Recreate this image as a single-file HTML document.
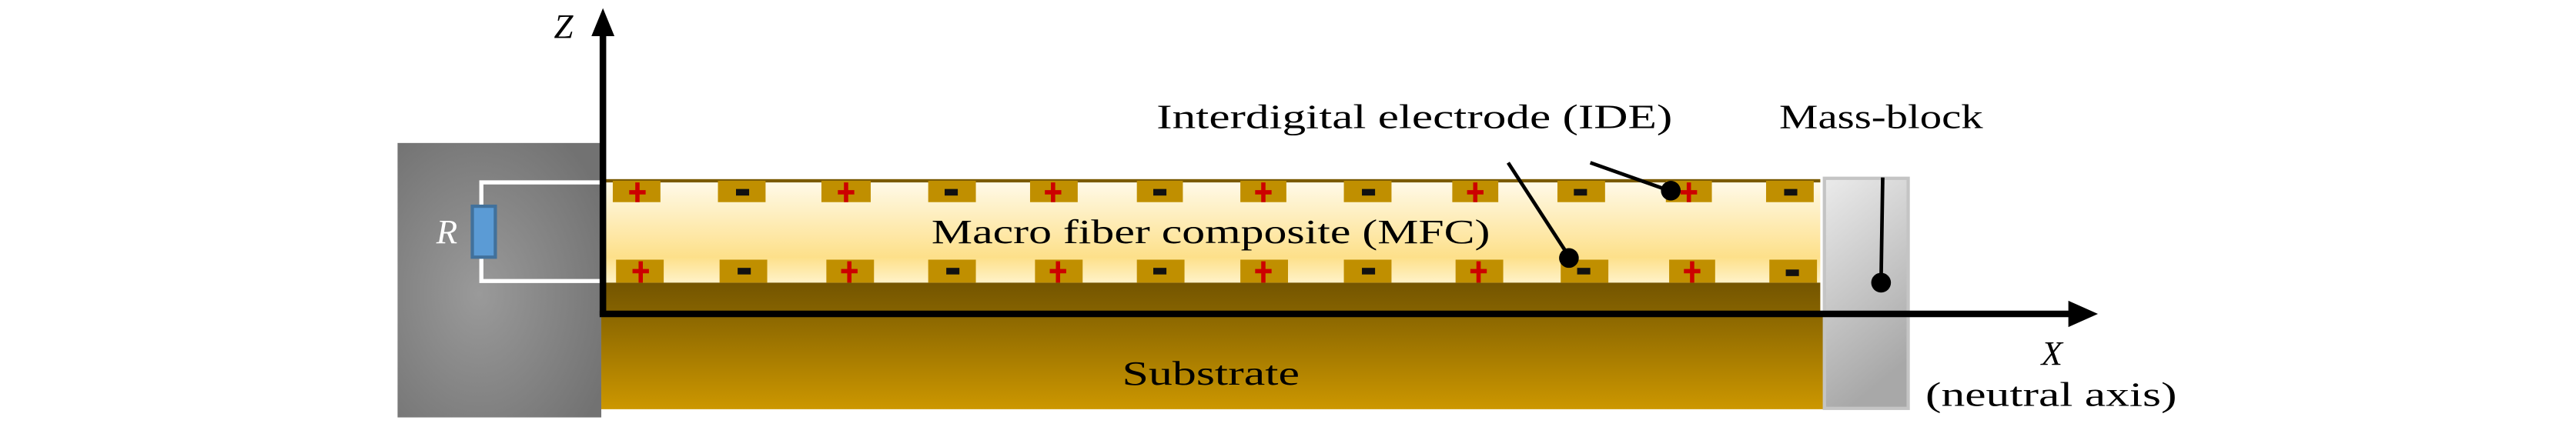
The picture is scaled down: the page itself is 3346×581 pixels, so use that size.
<!DOCTYPE html>
<html><head><meta charset="utf-8"><style>html,body{margin:0;padding:0;background:#fff}svg{display:block}svg text{font-family:"Liberation Serif",serif}</style></head><body>
<svg width="3346" height="581" viewBox="0 0 1568 272" preserveAspectRatio="none" xmlns="http://www.w3.org/2000/svg">
<defs>
<radialGradient id="gb" cx="0.4" cy="0.55" r="0.7"><stop offset="0" stop-color="#9a9a9a"/><stop offset="1" stop-color="#727272"/></radialGradient>
<linearGradient id="mfc" x1="0" y1="0" x2="0" y2="1"><stop offset="0" stop-color="#fffaea"/><stop offset="0.75" stop-color="#fde08a"/><stop offset="1" stop-color="#fff2c8"/></linearGradient>
<linearGradient id="sub" x1="0" y1="0" x2="0" y2="1"><stop offset="0" stop-color="#8a6600"/><stop offset="1" stop-color="#cc9700"/></linearGradient>
<linearGradient id="dark" x1="0" y1="0" x2="0" y2="1"><stop offset="0" stop-color="#745500"/><stop offset="1" stop-color="#876400"/></linearGradient>
<linearGradient id="mb" x1="0" y1="0" x2="0.3" y2="1"><stop offset="0" stop-color="#ebebeb"/><stop offset="1" stop-color="#a8a8a8"/></linearGradient>
</defs>
<rect x="242" y="87" width="124" height="167" fill="url(#gb)"/>
<rect x="366" y="110" width="742" height="62" fill="url(#mfc)"/>
<rect x="366" y="109" width="742" height="2" fill="#7a5a00"/>
<rect x="366" y="172" width="742" height="20" fill="url(#dark)"/>
<rect x="366" y="191" width="746" height="58" fill="url(#sub)"/>
<rect x="1110.5" y="108.5" width="51" height="140" fill="url(#mb)" stroke="#c4c4c4" stroke-width="2"/>
<g fill="#c08f00">
<rect x="373" y="110" width="29" height="13"/><rect x="437" y="110" width="29" height="13"/><rect x="500" y="110" width="30" height="13"/><rect x="565" y="110" width="29" height="13"/><rect x="627" y="110" width="29" height="13"/><rect x="692" y="110" width="28" height="13"/><rect x="755" y="110" width="28" height="13"/><rect x="818" y="110" width="29" height="13"/><rect x="884" y="110" width="28" height="13"/><rect x="948" y="110" width="29" height="13"/><rect x="1014" y="110" width="28" height="13"/><rect x="1075" y="110" width="29" height="13"/>
<rect x="375" y="158" width="29" height="14"/><rect x="438" y="158" width="29" height="14"/><rect x="503" y="158" width="29" height="14"/><rect x="565" y="158" width="29" height="14"/><rect x="630" y="158" width="29" height="14"/><rect x="692" y="158" width="29" height="14"/><rect x="755" y="158" width="29" height="14"/><rect x="818" y="158" width="29" height="14"/><rect x="886" y="158" width="29" height="14"/><rect x="950" y="158" width="29" height="14"/><rect x="1016" y="158" width="28" height="14"/><rect x="1077" y="158" width="29" height="14"/>
</g>
<g fill="#cc0000">
<path d="M388 111v12M383 117h10 M515 111v12M510 117h10 M641 111v12M636 117h10 M769 111v12M764 117h10 M898 111v12M893 117h10 M1028 111v12M1023 117h10 M390 159v13M385 165h10 M517 159v13M512 165h10 M644 159v13M639 165h10 M769 159v13M764 165h10 M900 159v13M895 165h10 M1030 159v13M1025 165h10" stroke="#cc0000" stroke-width="2.6"/>
</g>
<g fill="#111">
<rect x="448" y="115" width="8" height="4"/><rect x="575" y="115" width="8" height="4"/><rect x="702" y="115" width="8" height="4"/><rect x="829" y="115" width="8" height="4"/><rect x="958" y="115" width="8" height="4"/><rect x="1086" y="115" width="8" height="4"/>
<rect x="449" y="163" width="8" height="4"/><rect x="576" y="163" width="8" height="4"/><rect x="702" y="163" width="8" height="4"/><rect x="829" y="163" width="8" height="4"/><rect x="960" y="163" width="8" height="4"/><rect x="1087" y="164" width="8" height="4"/>
</g>
<polyline points="366,111 293,111 293,171 366,171" fill="none" stroke="#fff" stroke-width="2.5"/>
<rect x="287.5" y="125.5" width="14" height="31" fill="#5b9bd5" stroke="#41719c" stroke-width="2"/>
<text x="272" y="148" fill="#fff" font-style="italic" font-size="21" text-anchor="middle">R</text>
<line x1="367" y1="192" x2="367" y2="18" stroke="#000" stroke-width="4"/>
<polygon points="367,5 360,22 374,22" fill="#000"/>
<line x1="365" y1="191" x2="1262" y2="191" stroke="#000" stroke-width="4"/>
<polygon points="1277,191 1259,183 1259,199" fill="#000"/>
<text x="343" y="23" font-style="italic" font-size="21" text-anchor="middle">Z</text>
<text x="1249" y="222" font-style="italic" font-size="21" text-anchor="middle">X</text>
<text x="1172" y="247" font-size="21" textLength="153" lengthAdjust="spacingAndGlyphs">(neutral axis)</text>
<text x="567" y="148" font-size="21" textLength="340" lengthAdjust="spacingAndGlyphs">Macro fiber composite (MFC)</text>
<text x="683" y="234" font-size="21" textLength="108" lengthAdjust="spacingAndGlyphs">Substrate</text>
<text x="704" y="78" font-size="21" textLength="314" lengthAdjust="spacingAndGlyphs">Interdigital electrode (IDE)</text>
<text x="1083" y="78" font-size="21" textLength="124" lengthAdjust="spacingAndGlyphs">Mass-block</text>
<g stroke="#000" stroke-width="2.2"><line x1="918" y1="99" x2="955" y2="156"/><line x1="968" y1="99" x2="1016" y2="116"/><line x1="1146" y1="108" x2="1145" y2="171"/></g>
<g fill="#000"><ellipse cx="955" cy="157" rx="6" ry="6"/><ellipse cx="1017" cy="116" rx="6" ry="6"/><ellipse cx="1145" cy="172" rx="6" ry="6"/></g>
</svg>
</body></html>
